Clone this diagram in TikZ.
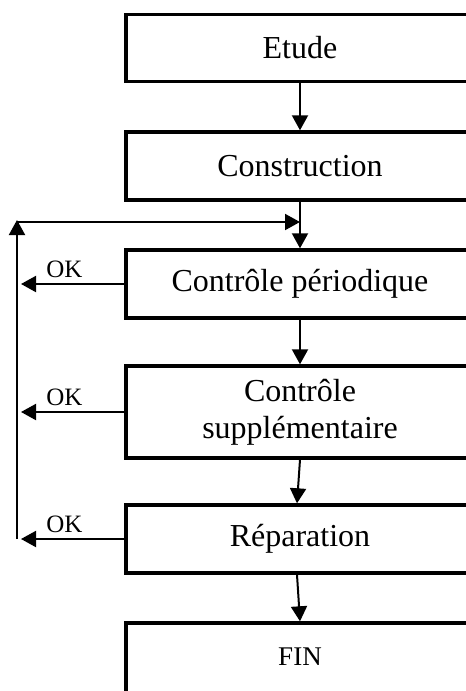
\documentclass[tikz,border=0pt]{standalone}
\usepackage{fontspec}
\setmainfont{Liberation Serif}
\usetikzlibrary{arrows.meta,calc}
\tikzset{
  stepbox/.style={draw, line width=3.4pt, minimum width=348pt, inner sep=0pt,
    font=\fontsize{32}{37}\selectfont, align=center},
  arr/.style={line width=2pt, -{Triangle[length=15pt,width=16pt]}},
  oklab/.style={font=\fontsize{25}{28}\selectfont, inner sep=0pt, above=5pt}
}
\begin{document}
\begin{tikzpicture}[x=1pt,y=-1pt]
\useasboundingbox (0,0) rectangle (466,691);
\clip (0,0) rectangle (466,691);
\node[stepbox, minimum height=67pt] (etude) at (300,48) {Etude};
\node[stepbox, minimum height=68pt] (cons) at (300,166) {Construction};
\node[stepbox, minimum height=68pt] (cp) at (300,284) {Contrôle périodique};
\node[stepbox, minimum height=92pt] (cs) at (300,412) {Contrôle\\supplémentaire};
\node[stepbox, minimum height=68pt] (rep) at (300,539) {Réparation};
\node[stepbox, minimum height=72pt, font=\fontsize{27}{30}\selectfont] (fin) at (300,659) {\raisebox{5pt}{FIN}};
\coordinate (lx) at (21,0);
\coordinate (vb) at (17,539);
\coordinate (vt) at (17,220);
\coordinate (ht) at (17,222);
% main flow
\draw[arr] (etude.south) -- (cons.north);
\draw[arr] (cons.south) -- (cp.north);
\draw[arr] (cp.south) -- (cs.north);
\draw[arr] (cs.south) -- ([xshift=-3pt]rep.north);
\draw[arr] ([xshift=-3pt]rep.south) -- (fin.north);
% OK branches
\draw[arr] (cp.west) -- (cp.west -| lx) node[oklab, pos=0.58] {OK};
\draw[arr] (cs.west) -- (cs.west -| lx) node[oklab, pos=0.58] {OK};
\draw[arr] (rep.west) -- (rep.west -| lx) node[oklab, pos=0.58] {OK};
% return loop
\draw[arr] (vb) -- (vt);
\draw[arr] (ht) -- (ht -| cons.south);
\end{tikzpicture}
\end{document}
